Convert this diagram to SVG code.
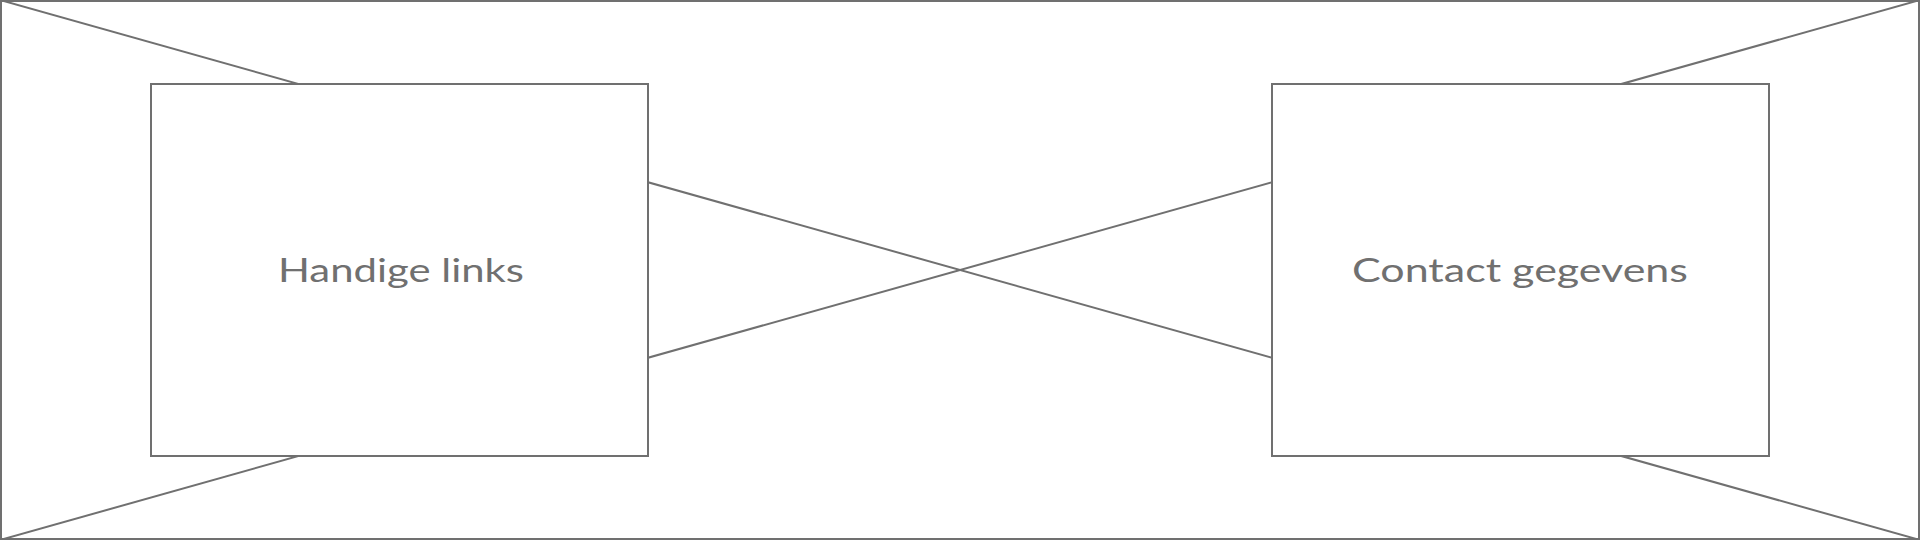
<svg xmlns="http://www.w3.org/2000/svg" width="1920" height="540" viewBox="0 0 1920 540">
  <style>
    .ln { stroke: #707070; stroke-width: 2; fill: none; }
    .box { stroke: #707070; stroke-width: 2; fill: #ffffff; }
    .lbl { font-family: "Lato", "Noto Sans", "Liberation Sans", sans-serif; font-size: 33px; fill: #707070; text-anchor: middle; }
  </style>
  <rect x="0" y="0" width="1920" height="540" fill="#ffffff"/>
  <g id="connectors">
    <line class="ln" x1="0" y1="0" x2="1920" y2="540"/>
    <line class="ln" x1="0" y1="540" x2="1920" y2="0"/>
  </g>
  <rect id="frame" class="ln" x="1" y="1" width="1918" height="538"/>
  <g id="handige-links">
    <rect class="box" x="151" y="84" width="497" height="372"/>
    <text class="lbl" x="401" y="282" textLength="246" lengthAdjust="spacingAndGlyphs">Handige links</text>
  </g>
  <g id="contact-gegevens">
    <rect class="box" x="1272" y="84" width="497" height="372"/>
    <text class="lbl" x="1520" y="282" textLength="336" lengthAdjust="spacingAndGlyphs">Contact gegevens</text>
  </g>
</svg>
